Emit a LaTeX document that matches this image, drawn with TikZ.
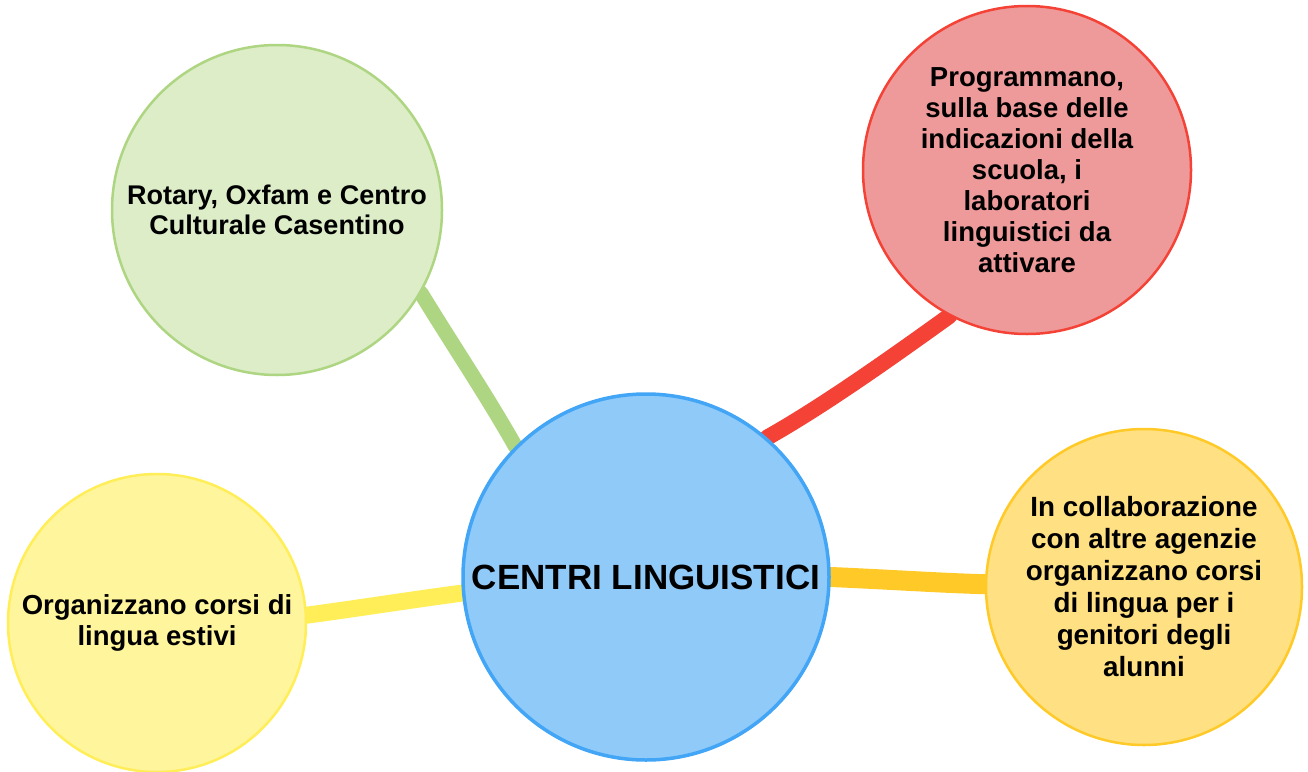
\documentclass[tikz,border=0pt]{standalone}
\usepackage{fontspec}
\setmainfont{Liberation Sans}
\usepackage{tikz}
\usetikzlibrary{backgrounds}
\definecolor{bluF}{HTML}{90CAF9}
\definecolor{bluB}{HTML}{42A5F5}
\definecolor{verdeF}{HTML}{DCEDC8}
\definecolor{verdeB}{HTML}{AED581}
\definecolor{rossoF}{HTML}{EF9A9A}
\definecolor{rossoB}{HTML}{F44336}
\definecolor{gialloF}{HTML}{FFF59D}
\definecolor{gialloB}{HTML}{FFEE58}
\definecolor{ambraF}{HTML}{FFE082}
\definecolor{ambraB}{HTML}{FFCA28}

\begin{document}
\begin{tikzpicture}[x=1pt,y=-1pt,
		bolla/.style={circle,draw,line width=2.5pt,align=center,inner sep=0pt,font=\bfseries\fontsize{27.5}{31}\selectfont},
		ramo/.style={line width=15pt,line cap=round}]
			\useasboundingbox (0,0) rectangle (1308,771);
			\node[bolla,fill=bluF,draw=bluB,line width=3.5pt,minimum size=366pt,font=\bfseries\fontsize{35}{40}\selectfont] (centro) at (646,577) {CENTRI LINGUISTICI};
			\node[bolla,fill=verdeF,draw=verdeB,minimum size=330pt,font=\bfseries\fontsize{27}{30}\selectfont] (rotary) at (277,210) {Rotary, Oxfam e Centro\\Culturale Casentino};
			\node[bolla,fill=rossoF,draw=rossoB,minimum size=328pt] (programmano) at (1027,170) {Programmano,\\sulla base delle\\indicazioni della\\scuola, i\\laboratori\\linguistici da\\attivare};
			\node[bolla,fill=gialloF,draw=gialloB,minimum size=298pt] (estivi) at (157,623) {Organizzano corsi di\\lingua estivi};
			\node[bolla,fill=ambraF,draw=ambraB,minimum size=316pt,font=\bfseries\fontsize{27.8}{32}\selectfont] (genitori) at (1144,587) {In collaborazione\\con altre agenzie\\organizzano corsi\\di lingua per i\\genitori degli\\alunni};
			\begin{scope}[on background layer]
				\draw[ramo,verdeB] (centro.135) .. controls (487,396) and (452,344) .. (rotary.-30);
				\draw[ramo,rossoB,line width=16pt] (centro.49) .. controls (825,405) and (895,355) .. (programmano.-118);
				\draw[ramo,gialloB,line width=17pt] (centro.185) .. controls (410,600) and (360,608) .. (estivi.3);
				\draw[ramo,ambraB,line width=20pt] (centro.0) .. controls (880,579) and (940,583) .. (genitori.179);
			\end{scope}
		\end{tikzpicture}
\end{document}
